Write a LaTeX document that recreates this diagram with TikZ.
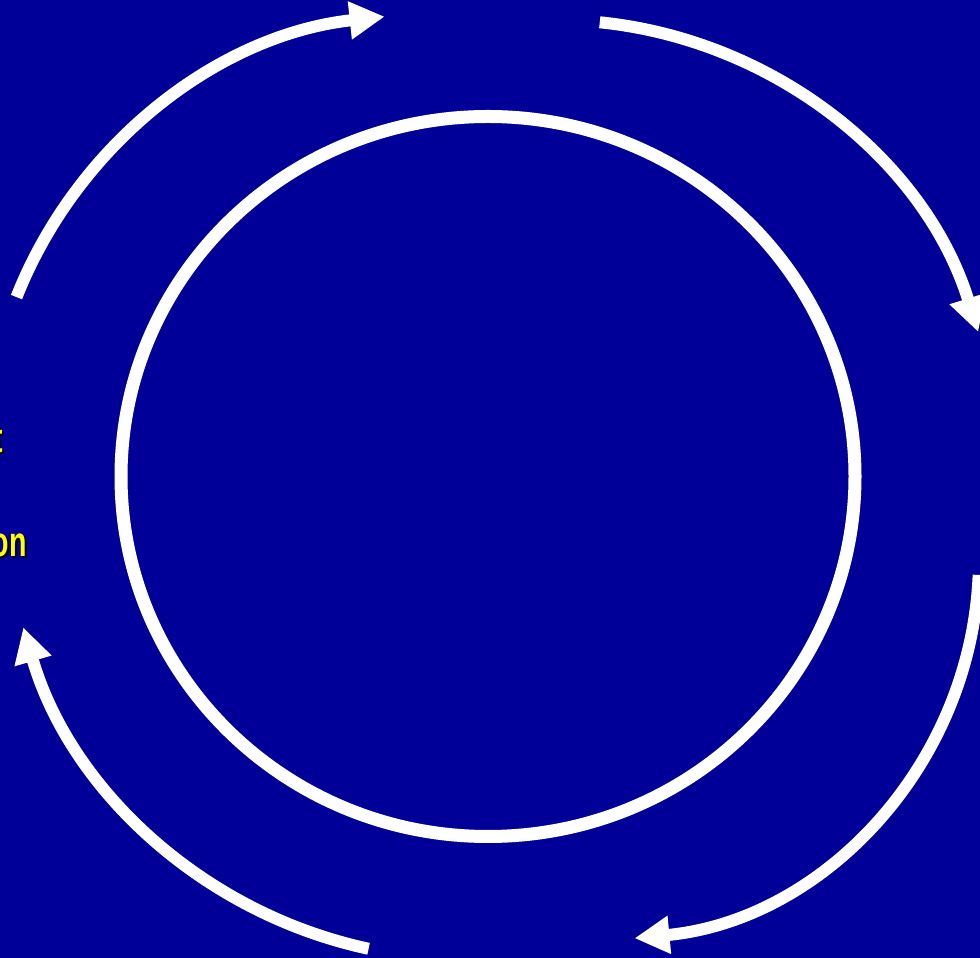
\documentclass[tikz,border=0pt]{standalone}
\usepackage{fontspec}
\setmainfont{Liberation Sans}
\usetikzlibrary{arrows.meta, calc}
\definecolor{slideblue}{HTML}{000099}
\definecolor{labelyellow}{HTML}{FFFF00}
\definecolor{labelshadow}{HTML}{000022}

\newcommand{\narrowtext}[1]{\scalebox{0.68}[1]{#1}}

\begin{document}
\begin{tikzpicture}[x=0.5pt, y=0.5pt,
    cyclearc/.style={draw=white, line width=6pt, -{Triangle[length=17.5pt, width=18pt]}},
    lbl/.style={text=labelyellow, font=\bfseries\fontsize{21}{25}\selectfont,
                inner sep=0pt, anchor=base east},
    lblshadow/.style={lbl, text=labelshadow}]
  % slide background
  \fill[slideblue] (0,0) rectangle (980,958);
  \useasboundingbox (0,0) rectangle (980,958);

  \coordinate (m) at (488,481.5);

  % inner ring
  \draw[white, line width=6.5pt] (m) ellipse [x radius=183.5pt, y radius=180pt];

  % the four cycle arrows: centre x/y, radius, start, end
  \foreach \cx/\cy/\r/\a/\b in {433/496/224/158.4/96.2,
                                555/495/221.5/84.2/17.2,
                                598/399/190.5/-2.4/-84.5,
                                465/459/230/-102.1/-163.8}
    \draw[cyclearc] (\cx,\cy) ++(\a:\r pt) arc[start angle=\a, end angle=\b, radius=\r pt];

  % labels cut by the left edge
  \node[lblshadow] (t1s) at (5,503) {\narrowtext{t}};
  \node[lbl] (t1) at (3,505) {\narrowtext{t}};
  \node[lblshadow] (t2s) at (29,399) {\narrowtext{on}};
  \node[lbl] (t2) at (27,401) {\narrowtext{on}};
\end{tikzpicture}
\end{document}
